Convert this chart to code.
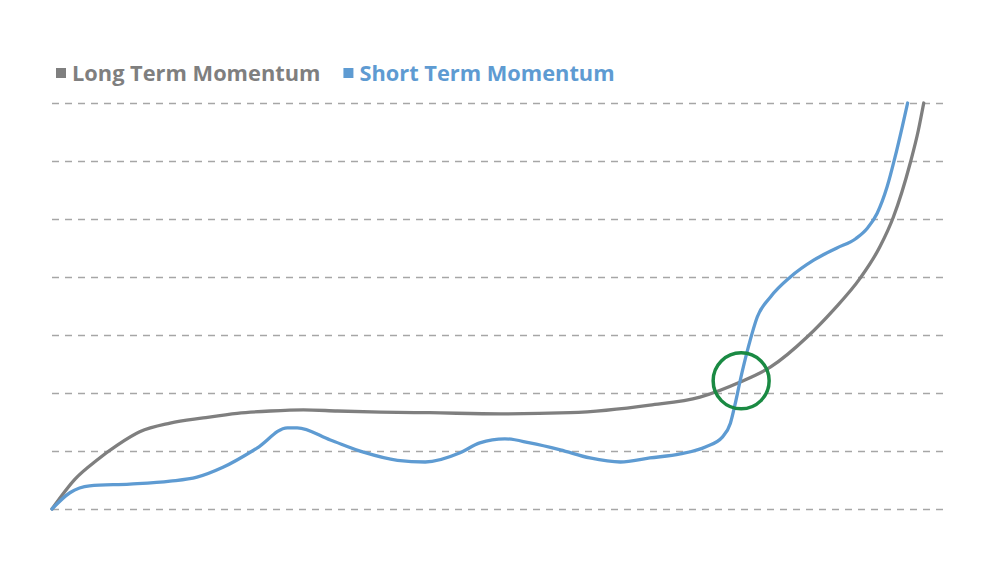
<!DOCTYPE html>
<html>
<head>
<meta charset="utf-8">
<script src="https://cdn.jsdelivr.net/npm/d3@7"></script>
<style>
  body { margin: 0; background: #fff; }
  svg { display: block; }
</style>
</head>
<body>
<div id="chart"></div>
<script>
// series: [time, momentum]
const longTerm = [
  [0, 0], [2.6, 0.52], [5.0, 0.84], [7.3, 1.1], [9.8, 1.33], [13.2, 1.48],
  [16.9, 1.57], [20.7, 1.65], [24.4, 1.69], [28.1, 1.71], [31.9, 1.69],
  [36.7, 1.67], [42.2, 1.66], [50.1, 1.64], [57.9, 1.66], [66.8, 1.79],
  [72.4, 1.93], [76.9, 2.19], [80.3, 2.45], [84.4, 2.97], [87.3, 3.43],
  [90.3, 3.98], [92.5, 4.52], [94.0, 5.03], [95.9, 5.97], [96.8, 6.53],
  [97.4, 7.0]
];
const shortTerm = [
  [0, 0], [2.0, 0.28], [4.2, 0.4], [8.7, 0.43], [13.2, 0.48], [16.2, 0.55],
  [19.1, 0.72], [22.9, 1.05], [26.3, 1.4], [27.4, 1.4], [31.1, 1.19],
  [34.8, 0.98], [38.6, 0.84], [41.7, 0.81], [45.6, 0.97], [47.8, 1.14],
  [50.6, 1.21], [53.4, 1.14], [56.8, 1.02], [60.1, 0.88], [63.5, 0.81],
  [66.8, 0.88], [70.2, 0.95], [73.0, 1.07], [74.9, 1.24], [75.8, 1.48],
  [76.3, 1.79], [76.9, 2.22], [77.8, 2.79], [78.8, 3.31], [80.3, 3.66],
  [82.5, 4.0], [85.1, 4.29], [87.7, 4.5], [89.8, 4.66], [91.1, 4.84],
  [92.2, 5.1], [93.3, 5.55], [94.2, 6.07], [95.0, 6.59], [95.6, 7.0]
];
const yTicks = [0, 1, 2, 3, 4, 5, 6, 7];
const crossing = [77.0, 2.21];
const seriesNames = ["Long Term Momentum", "Short Term Momentum"];

const width = 1000;
const height = 562;
const margin = { top: 103, right: 53, bottom: 53, left: 52 };
const colors = ["#7f7f7f", "#5e9bd2"];

const svg = d3
  .select("#chart")
  .append("svg")
  .attr("width", width)
  .attr("height", height);

const x = d3
  .scaleLinear()
  .domain([0, 100])
  .range([margin.left, width - margin.right]);

const y = d3
  .scaleLinear()
  .domain([0, 7])
  .range([height - margin.bottom, margin.top]);

// dashed gridlines
const grid = svg
  .append("g")
  .attr("transform", "translate(" + margin.left + ",0)")
  .call(
    d3
      .axisLeft(y)
      .tickValues(yTicks)
      .tickSize(-(width - margin.left - margin.right))
      .tickFormat("")
  );
grid.select(".domain").remove();
grid
  .selectAll(".tick line")
  .attr("stroke", "#a6a6a6")
  .attr("stroke-width", 1.3)
  .attr("stroke-dasharray", "7,6");

const line = d3
  .line()
  .x((d) => x(d[0]))
  .y((d) => y(d[1]))
  .curve(d3.curveMonotoneX);

[longTerm, shortTerm].forEach(function (series, i) {
  svg
    .append("path")
    .datum(series)
    .attr("fill", "none")
    .attr("stroke", colors[i])
    .attr("stroke-width", 3.3)
    .attr("stroke-linejoin", "round")
    .attr("stroke-linecap", "round")
    .attr("d", line);
});

// highlight where the short term line crosses the long term one
svg
  .append("circle")
  .attr("cx", x(crossing[0]))
  .attr("cy", y(crossing[1]))
  .attr("r", 28)
  .attr("fill", "none")
  .attr("stroke", "#1a8a43")
  .attr("stroke-width", 3.5);

// legend
const legend = svg.append("g").attr("transform", "translate(56,0)");
let legendX = 0;
seriesNames.forEach(function (name, i) {
  const item = legend.append("g").attr("transform", "translate(" + legendX + ",0)");
  item
    .append("rect")
    .attr("x", 0)
    .attr("y", 68)
    .attr("width", 10)
    .attr("height", 10)
    .attr("fill", colors[i]);
  const label = item
    .append("text")
    .attr("x", 16)
    .attr("y", 81)
    .attr("fill", colors[i])
    .style("font-family", "'Open Sans', Lato, sans-serif")
    .style("font-weight", "bold")
    .style("font-size", "21.8px")
    .text(name);
  legendX += 16 + label.node().getComputedTextLength() + 23;
});
</script>
</body>
</html>
